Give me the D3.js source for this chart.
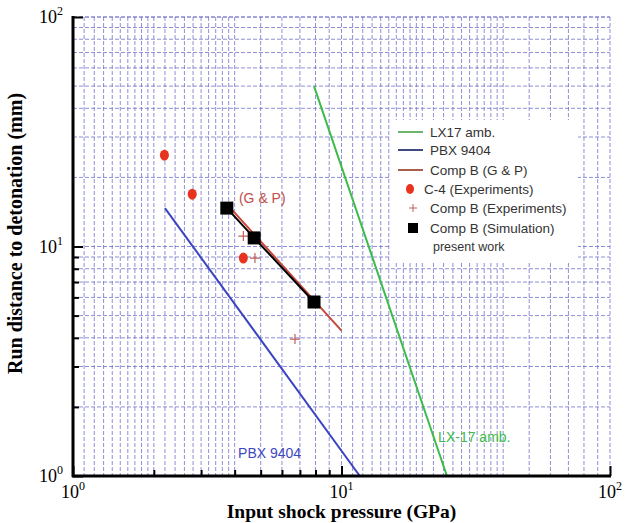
<!DOCTYPE html>
<html>
<head>
<meta charset="utf-8">
<script src="https://cdn.jsdelivr.net/npm/d3@7"></script>
<style>
  body { margin: 0; background: #fff; }
</style>
</head>
<body>
<div id="chart"></div>
<script>
// data (pressure in GPa, run distance in mm)
var lx17P = [7.9, 24.7];
var lx17L = [50, 1];
var pbxP = [2.2, 11.7];
var pbxL = [14.7, 1];
var gpP = [3.8, 10.0];
var gpL = [15, 4.3];
var c4P = [2.19, 2.78, 4.31];
var c4L = [25, 16.9, 8.9];
var expP = [4.31, 4.76, 6.71];
var expL = [11.1, 8.9, 3.95];
var simP = [3.74, 4.73, 7.9];
var simL = [14.7, 10.9, 5.73];
var legendNames = ["LX17 amb.", "PBX 9404", "Comp B (G & P)", "C-4 (Experiments)", "Comp B (Experiments)", "Comp B (Simulation)"];
var majorTicks = [1, 10, 100];

// set the dimensions and margins of the graph
var margin = {top: 17, right: 15, bottom: 47, left: 73},
    width = 625 - margin.left - margin.right,
    height = 523 - margin.top - margin.bottom;

var svg = d3.select("#chart")
  .append("svg")
    .attr("width", width + margin.left + margin.right)
    .attr("height", height + margin.top + margin.bottom)
  .append("g")
    .attr("transform", "translate(" + margin.left + "," + margin.top + ")");

var x = d3.scaleLog().domain([1, 100]).range([0, width]);
var y = d3.scaleLog().domain([1, 100]).range([height, 0]);

// grid values: dense vertical grid, normal log minors horizontally
var xGrid = [], yGrid = [];
[1, 10].forEach(function(dec) {
  for (var v = 1.1; v < 2.05; v += 0.1) xGrid.push(v * dec);
  for (var v = 2.2; v < 4.05; v += 0.2) xGrid.push(v * dec);
  for (var v = 5; v <= 10; v += 1) xGrid.push(v * dec);
  for (var v = 2; v <= 10; v += 1) yGrid.push(v * dec);
});

svg.append("g").selectAll("line")
  .data(xGrid)
  .enter().append("line")
    .attr("x1", function(d) { return x(d); })
    .attr("x2", function(d) { return x(d); })
    .attr("y1", 0).attr("y2", height)
    .attr("stroke", "#6a6ac8")
    .attr("stroke-opacity", 0.75)
    .attr("stroke-dasharray", "4,2");

svg.append("g").selectAll("line")
  .data(yGrid.concat([100]))
  .enter().append("line")
    .attr("x1", 0).attr("x2", width)
    .attr("y1", function(d) { return y(d); })
    .attr("y2", function(d) { return y(d); })
    .attr("stroke", "#6a6ac8")
    .attr("stroke-opacity", 0.75)
    .attr("stroke-dasharray", "4,2");

// legend box sits over the grid
var lg = svg.append("g").attr("transform", "translate(" + (390 - margin.left) + "," + (120 - margin.top) + ")");
lg.append("rect").attr("width", 188).attr("height", 143).attr("fill", "#fff");

// lines
var line = d3.line()
  .x(function(d) { return x(d[0]); })
  .y(function(d) { return y(d[1]); });

function drawLine(ps, ls, color, w) {
  svg.append("path")
    .datum(d3.zip(ps, ls))
    .attr("d", line)
    .attr("fill", "none")
    .attr("stroke", color)
    .attr("stroke-width", w);
}
drawLine(lx17P, lx17L, "#3dbb4a", 2);
drawLine(pbxP, pbxL, "#3b44c0", 2);
drawLine(gpP, gpL, "#c8483a", 2);
drawLine(simP, simL, "#000", 2);

// C-4 experiments
svg.selectAll("c4")
  .data(d3.zip(c4P, c4L))
  .enter().append("ellipse")
    .attr("cx", function(d) { return x(d[0]); })
    .attr("cy", function(d) { return y(d[1]); })
    .attr("rx", 4.5).attr("ry", 5.5)
    .attr("fill", "#e8331f");

// Comp B experiments
svg.selectAll("plus")
  .data(d3.zip(expP, expL))
  .enter().append("path")
    .attr("d", function(d) {
      var cx = x(d[0]), cy = y(d[1]);
      return "M" + (cx - 5) + "," + cy + "H" + (cx + 5) + "M" + cx + "," + (cy - 5) + "V" + (cy + 5);
    })
    .attr("stroke", "#c0605a")
    .attr("stroke-width", 1.2);

// Comp B simulation
svg.selectAll("sq")
  .data(d3.zip(simP, simL))
  .enter().append("rect")
    .attr("x", function(d) { return x(d[0]) - 6.5; })
    .attr("y", function(d) { return y(d[1]) - 6.5; })
    .attr("width", 13).attr("height", 13)
    .attr("fill", "#000");

// in-plot labels
svg.append("text").attr("x", x(4.15)).attr("y", y(15.4))
  .attr("font-family", "Liberation Sans, Arial, sans-serif").attr("font-size", 14)
  .attr("fill", "#c0504a").text("(G & P)");
svg.append("text").attr("x", x(4.12)).attr("y", y(1.2))
  .attr("font-family", "Liberation Sans, Arial, sans-serif").attr("font-size", 14)
  .attr("fill", "#4048c0").text("PBX 9404");
svg.append("text").attr("x", x(22.9)).attr("y", y(1.41))
  .attr("font-family", "Liberation Sans, Arial, sans-serif").attr("font-size", 14)
  .attr("fill", "#3dbb4a").text("LX-17 amb.");

// legend entries
var legendColors = ["#6cb56c", "#3e4a80", "#a8604c"];
var legendY = [12, 30, 50, 69, 88, 108];
legendNames.forEach(function(name, i) {
  var ly = legendY[i];
  if (i < 3) {
    lg.append("line").attr("x1", 8).attr("x2", 33).attr("y1", ly).attr("y2", ly)
      .attr("stroke", legendColors[i]).attr("stroke-width", 2);
  } else if (i == 3) {
    lg.append("ellipse").attr("cx", 20).attr("cy", ly).attr("rx", 4).attr("ry", 5).attr("fill", "#e8331f");
  } else if (i == 4) {
    lg.append("path").attr("d", "M19," + ly + "h8M23," + (ly - 4) + "v8")
      .attr("stroke", "#c0605a").attr("stroke-width", 1);
  } else {
    lg.append("rect").attr("x", 18).attr("y", ly - 5).attr("width", 10).attr("height", 10).attr("fill", "#000");
  }
  lg.append("text")
    .attr("x", i == 3 ? 34 : 40).attr("y", ly + 5)
    .attr("font-family", "Liberation Sans, Arial, sans-serif")
    .attr("font-size", 13.5)
    .attr("fill", "#333")
    .text(name);
});
lg.append("text").attr("x", 43).attr("y", 131)
  .attr("font-family", "Liberation Sans, Arial, sans-serif")
  .attr("font-size", 12.5).attr("fill", "#333").text("present work");

// axes: ticks point inward
var minor = yGrid.filter(function(d) { return d % 10 != 0; });
svg.append("g")
  .call(d3.axisRight(y).tickValues(minor).tickSize(6).tickFormat(""))
  .call(function(g) { g.select(".domain").remove(); });
svg.append("g")
  .call(d3.axisRight(y).tickValues(majorTicks).tickSize(10).tickFormat(""))
  .call(function(g) { g.select(".domain").remove(); });
svg.append("g")
  .attr("transform", "translate(0," + height + ")")
  .call(d3.axisTop(x).tickValues(minor).tickSize(6).tickFormat(""))
  .call(function(g) { g.select(".domain").remove(); });
svg.append("g")
  .attr("transform", "translate(0," + height + ")")
  .call(d3.axisTop(x).tickValues(majorTicks).tickSize(10).tickFormat(""))
  .call(function(g) { g.select(".domain").remove(); });
svg.selectAll(".tick line").attr("stroke", "#000").attr("stroke-width", 2);

svg.append("line").attr("x1", 0).attr("x2", 0).attr("y1", -1).attr("y2", height + 1)
  .attr("stroke", "#000").attr("stroke-width", 3);
svg.append("line").attr("x1", -1).attr("x2", width + 1).attr("y1", height).attr("y2", height)
  .attr("stroke", "#000").attr("stroke-width", 3);

// tick labels 10^n
function powLabel(sel, n) {
  sel.append("tspan").text("10");
  sel.append("tspan").attr("dy", -8).attr("font-size", 12).text(n);
}
majorTicks.forEach(function(v, i) {
  var t = svg.append("text")
    .attr("x", -10).attr("y", y(v) + 6)
    .attr("text-anchor", "end")
    .attr("font-family", "Liberation Serif, Times New Roman, serif")
    .attr("font-size", 18);
  powLabel(t, i);
  var t2 = svg.append("text")
    .attr("x", x(v)).attr("y", height + 22)
    .attr("text-anchor", "middle")
    .attr("font-family", "Liberation Serif, Times New Roman, serif")
    .attr("font-size", 18);
  powLabel(t2, i);
});

// axis titles
svg.append("text")
  .attr("x", width / 2).attr("y", height + 42)
  .attr("text-anchor", "middle")
  .attr("font-family", "Liberation Serif, Times New Roman, serif")
  .attr("font-weight", "bold").attr("font-size", 19.5)
  .text("Input shock pressure (GPa)");
svg.append("text")
  .attr("transform", "translate(" + (-51) + "," + (height / 2 - 13) + ")rotate(-90)")
  .attr("text-anchor", "middle")
  .attr("font-family", "Liberation Serif, Times New Roman, serif")
  .attr("font-weight", "bold").attr("font-size", 20)
  .text("Run distance to detonation (mm)");
</script>
</body>
</html>
